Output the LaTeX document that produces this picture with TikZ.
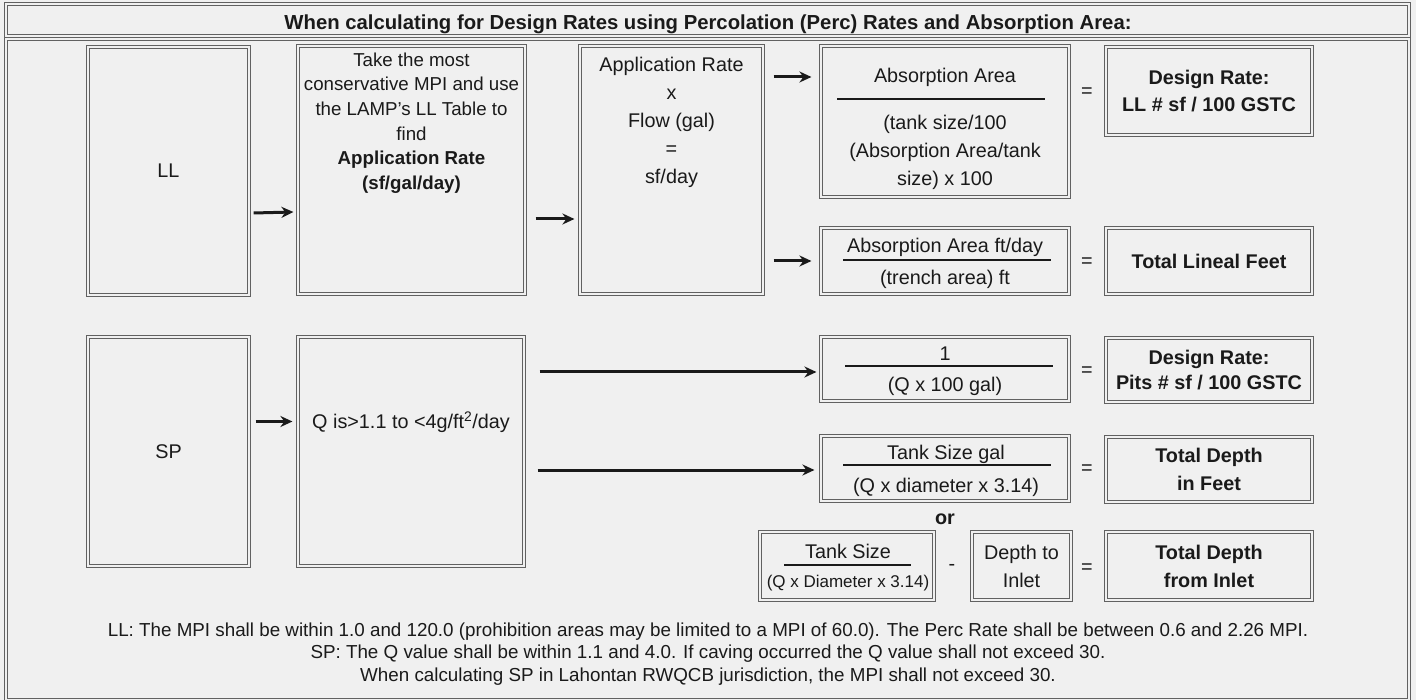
\documentclass[tikz,border=0pt]{standalone}
\usepackage{fontspec}
\setmainfont{Liberation Sans}
\usetikzlibrary{arrows.meta}
\definecolor{bgcol}{HTML}{F0F0F0}
\definecolor{ink}{HTML}{1A1A1A}

\tikzset{
	boxline/.style={draw=black!62, double=bgcol, double distance=1.1pt, line width=1.15pt, inner sep=0pt},
	txt/.style={align=center, inner sep=0pt, text=ink, font=\fontsize{19.8}{24.6}\selectfont},
	bold/.style={font=\fontsize{19.8}{#1}\selectfont\bfseries},
	arr/.style={-{Stealth[length=12pt,width=11pt]}, line width=3pt},
	fracline/.style={line width=2pt, ink},
}

\begin{document}
\begin{tikzpicture}[x=1pt,y=-1pt]
	\fill[bgcol] (0,0) rectangle (1416,700);
	\useasboundingbox (0,0) rectangle (1416,700);

	% outer frames
	\node[boxline, minimum width=1403pt, minimum height=661pt] (body) at (707.5,369.5) {};
	\node[boxline, minimum width=1403pt, minimum height=32pt] (head) at (707.5,20) {};
	\node[txt, font=\fontsize{20.3}{22}\selectfont\bfseries] (title) at (708,24) {When calculating for Design Rates using Percolation (Perc) Rates and Absorption Area:};

	% boxes
	\begin{scope}[every node/.style={boxline, txt}]
		\node[minimum width=161pt, minimum height=248pt] (ll) at (168.5,171) {LL};
		\node[minimum width=227pt, minimum height=248pt] (take) at (411.5,170) {};
		\node[minimum width=183pt, minimum height=248pt] (app) at (671.5,170) {};
		\node[minimum width=248pt, minimum height=151pt] (abs) at (945,121.5) {};
		\node[minimum width=206pt, minimum height=88pt, bold=27] (drll) at (1209,91) {Design Rate:\\LL \# sf / 100 GSTC};
		\node[minimum width=248pt, minimum height=66pt] (absft) at (945,261) {};
		\node[minimum width=206pt, minimum height=66pt, bold=24] (lineal) at (1209,261) {Total Lineal Feet};

		\node[minimum width=161pt, minimum height=229pt] (sp) at (168.5,451.5) {SP};
		\node[minimum width=226pt, minimum height=229pt] (qbox) at (411,451.5) {};
		\node[minimum width=248pt, minimum height=64pt] (pits) at (945,369) {};
		\node[minimum width=206pt, minimum height=64pt, bold=25] (drsp) at (1209,370) {Design Rate:\\Pits \# sf / 100 GSTC};
		\node[minimum width=248pt, minimum height=65pt] (tank) at (945,468.5) {};
		\node[minimum width=206pt, minimum height=65pt, bold=28] (feet) at (1209,469.5) {Total Depth\\in Feet};
		\node[minimum width=174pt, minimum height=68pt] (tanks) at (847,566) {};
		\node[minimum width=99pt, minimum height=68pt, font=\fontsize{19.8}{28}\selectfont] (inlet) at (1021.5,566) {Depth to\\Inlet};
		\node[minimum width=206pt, minimum height=68pt, bold=28] (fromin) at (1209,566) {Total Depth\\from Inlet};
	\end{scope}

	% texts
	\begin{scope}[every node/.style={txt}]
		\node[font=\fontsize{18.7}{24.6}\selectfont] (taket) at (411.5,123) {Take the most\\conservative MPI and use\\the LAMP's LL Table to\\find\\\textbf{Application Rate}\\\textbf{(sf/gal/day)}};
		\node[font=\fontsize{19.8}{28}\selectfont] (appt) at (671.5,122) {Application Rate\\x\\Flow (gal)\\=\\sf/day};
		\node (absn) at (945,77) {Absorption Area};
		\node[font=\fontsize{19.8}{28}\selectfont] (absd) at (945,152) {(tank size/100\\(Absorption Area/tank\\size) x 100};
		\node (absftn) at (945,247) {Absorption Area ft/day};
		\node (absftd) at (945,279) {(trench area) ft};
		\node (qt) at (411,422) {Q is>1.1 to <4g/ft\textsuperscript{2}/day};
		\node (pitsn) at (945,354) {1};
		\node (pitsd) at (945,386) {(Q x 100 gal)};
		\node (tankn) at (946,454) {Tank Size gal};
		\node (tankd) at (946,487) {(Q x diameter x 3.14)};
		\node[bold=24] (or) at (945,519) {or};
		\node (tanksn) at (848,551) {Tank Size};
		\node[font=\fontsize{17}{18}\selectfont] (tanksd) at (848,583) {(Q x Diameter x 3.14)};
		\node (minus) at (952,567) {-};
		\node (eq1) at (1087,93) {=};
		\node (eq2) at (1087,263) {=};
		\node (eq3) at (1087,372) {=};
		\node (eq4) at (1087,470) {=};
		\node (eq5) at (1087,569) {=};
		\node[font=\fontsize{18.8}{22.8}\selectfont] (notes) at (708,654)
			{LL: The MPI shall be within 1.0 and 120.0 (prohibition areas may be limited to a MPI of 60.0). The Perc Rate shall be between 0.6 and 2.26 MPI.\\
			SP: The Q value shall be within 1.1 and 4.0. If caving occurred the Q value shall not exceed 30.\\
			When calculating SP in Lahontan RWQCB jurisdiction, the MPI shall not exceed 30.};
	\end{scope}

	% fraction bars
	\draw[fracline] (837,99) -- (1045,99);
	\draw[fracline] (843,260) -- (1051,260);
	\draw[fracline] (845,366) -- (1053,366);
	\draw[fracline] (843,465) -- (1051,465);
	\draw[fracline] (784,565) -- (911,565);

	% arrows
	\begin{scope}[every path/.style={arr, ink}]
		\path ([xshift=4pt,yshift=-42pt]ll.east) edge ([xshift=-4pt,yshift=-42pt]take.west);
		\path ([xshift=10pt,yshift=-49pt]take.east) edge ([xshift=-5pt,yshift=-49pt]app.west);
		\path ([xshift=10pt]app.east |- 0,77) edge ([xshift=-9pt]abs.west |- 0,77);
		\path ([xshift=10pt]app.east |- absft.west) edge ([xshift=-9pt]absft.west);
		\path ([xshift=6pt,yshift=30pt]sp.east) edge ([xshift=-5pt,yshift=30pt]sp.east -| qbox.west);
		\path ([xshift=15pt,yshift=-3pt]qbox.east |- pits.west) edge ([xshift=-4pt,yshift=-3pt]pits.west);
		\path ([xshift=13pt,yshift=-1.5pt]qbox.east |- tank.west) edge ([xshift=-6pt,yshift=-1.5pt]tank.west);
	\end{scope}
\end{tikzpicture}
\end{document}
